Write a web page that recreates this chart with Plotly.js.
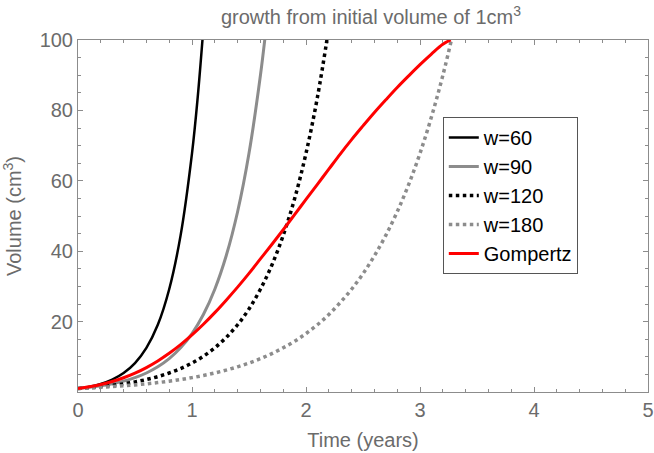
<!DOCTYPE html>
<html>
<head>
<meta charset="utf-8">
<script src="https://cdn.plot.ly/plotly-3.0.1.min.js"></script>
<style>html,body{margin:0;padding:0;background:#fff;}#chart{width:654px;height:453px;}</style>
</head>
<body>
<div id="chart"></div>
<script>
// Time (years)
const t60 = [0, 0.1, 0.2, 0.3, 0.4, 0.5, 0.6, 0.7, 0.8, 0.9, 1.0, 1.05, 1.1];
const v60 = [1, 1.52, 2.32, 3.54, 5.40, 8.23, 12.55, 19.1, 29.2, 44.5, 67.8, 83.7, 103.4];

const t90 = [0, 0.1, 0.2, 0.3, 0.4, 0.5, 0.6, 0.7, 0.8, 0.9, 1.0, 1.1, 1.2, 1.3, 1.4, 1.5, 1.6, 1.65];
const v90 = [1, 1.32, 1.75, 2.32, 3.08, 4.08, 5.40, 7.16, 9.48, 12.56, 16.6, 22.0, 29.2, 38.7, 51.2, 67.8, 89.9, 103.4];

const t120 = [0, 0.1, 0.2, 0.3, 0.4, 0.5, 0.6, 0.7, 0.8, 0.9, 1.0, 1.1, 1.2, 1.3, 1.4, 1.5, 1.6, 1.7, 1.8, 1.9, 2.0, 2.1, 2.2];
const v120 = [1, 1.23, 1.52, 1.88, 2.32, 2.87, 3.54, 4.37, 5.40, 6.66, 8.23, 10.16, 12.55, 15.5, 19.1, 23.6, 29.2, 36.0, 44.5, 54.9, 67.8, 83.7, 103.4];

const t180 = [0, 0.1, 0.2, 0.3, 0.4, 0.5, 0.6, 0.7, 0.8, 0.9, 1.0, 1.1, 1.2, 1.3, 1.4, 1.5, 1.6, 1.7, 1.8, 1.9, 2.0, 2.1, 2.2, 2.3, 2.4, 2.5, 2.6, 2.7, 2.8, 2.9, 3.0, 3.1, 3.2, 3.3];
const v180 = [1, 1.15, 1.32, 1.52, 1.75, 2.02, 2.32, 2.67, 3.08, 3.54, 4.08, 4.69, 5.40, 6.22, 7.16, 8.23, 9.48, 10.9, 12.55, 14.4, 16.6, 19.1, 22.0, 25.4, 29.2, 33.6, 38.7, 44.5, 51.2, 58.9, 67.8, 78.1, 89.9, 103.4];

const tGomp = [0, 0.1, 0.2, 0.3, 0.4, 0.5, 0.6, 0.7, 0.8, 0.9, 1.0, 1.1, 1.2, 1.3, 1.4, 1.5, 1.6, 1.7, 1.8, 1.9, 2.0, 2.1, 2.2, 2.3, 2.4, 2.5, 2.6, 2.7, 2.8, 2.9, 3.0, 3.1, 3.2, 3.27];
const vGomp = [1, 1.48, 2.13, 2.97, 4.04, 5.35, 6.94, 8.82, 10.99, 13.45, 16.2, 19.25, 22.55, 26.1, 29.8, 33.7, 37.8, 41.9, 46.1, 50.4, 54.7, 59.0, 63.3, 67.6, 71.7, 75.6, 79.4, 83.0, 86.5, 89.8, 93.0, 96.0, 98.8, 100];

const seriesNames = ["w=60", "w=90", "w=120", "w=180", "Gompertz"];
const xTickVals = [0, 1, 2, 3, 4, 5];
const yTickVals = [20, 40, 60, 80, 100];

const FONT = "Liberation Sans, Arial, sans-serif";
const GREY_TXT = "#6b6b6b";
const AXIS_COL = "#8c8c8c";

function tr(x, y, name, color, width, dash) {
  return {
    x: x, y: y, name: name, type: "scatter", mode: "lines",
    line: {color: color, width: width, dash: dash, shape: "spline", smoothing: 1},
    hoverinfo: "skip"
  };
}

const data = [
  tr(t60, v60, seriesNames[0], "#000000", 2.5, "solid"),
  tr(t90, v90, seriesNames[1], "#8c8c8c", 3, "solid"),
  tr(t120, v120, seriesNames[2], "#000000", 3.5, "dot"),
  tr(t180, v180, seriesNames[3], "#8c8c8c", 3.5, "dot"),
  tr(tGomp, vGomp, seriesNames[4], "#ff0000", 3, "solid")
];

const axisCommon = {
  showgrid: false, zeroline: false, showline: true, linecolor: AXIS_COL, linewidth: 1,
  mirror: "allticks", ticks: "inside", ticklen: 5, tickwidth: 1, tickcolor: AXIS_COL,
  tickfont: {family: FONT, size: 20, color: GREY_TXT}
};

const layout = {
  width: 654, height: 453,
  margin: {l: 78, r: 6, t: 40, b: 61, pad: 0},
  paper_bgcolor: "#ffffff", plot_bgcolor: "#ffffff",
  font: {family: FONT, color: GREY_TXT},
  title: {
    text: "growth from initial volume of 1cm<sup>3</sup>",
    font: {family: FONT, size: 20, color: GREY_TXT},
    x: 0.514, xref: "paper", xanchor: "center", y: 0.962, yref: "container", yanchor: "middle"
  },
  xaxis: Object.assign({}, axisCommon, {
    range: [0, 5], tickvals: xTickVals, ticktext: xTickVals.map(String),
    minor: {dtick: 0.2, ticks: "inside", ticklen: 3, tickcolor: AXIS_COL},
    title: {text: "Time (years)", font: {family: FONT, size: 20, color: GREY_TXT}, standoff: 12}
  }),
  yaxis: Object.assign({}, axisCommon, {
    range: [0, 100], tickvals: yTickVals, ticktext: yTickVals.map(String),
    minor: {dtick: 5, ticks: "inside", ticklen: 3, tickcolor: AXIS_COL},
    title: {text: "Volume (cm<sup>3</sup>)", font: {family: FONT, size: 20, color: GREY_TXT}, standoff: 12}
  }),
  showlegend: true,
  legend: {
    x: 0.64, y: 0.781, xanchor: "left", yanchor: "top",
    bgcolor: "#ffffff", bordercolor: "#555555", borderwidth: 1,
    font: {family: FONT, size: 20, color: "#000000"},
    itemwidth: 30
  }
};

Plotly.newPlot("chart", data, layout, {staticPlot: true, displayModeBar: false});
</script>
</body>
</html>
